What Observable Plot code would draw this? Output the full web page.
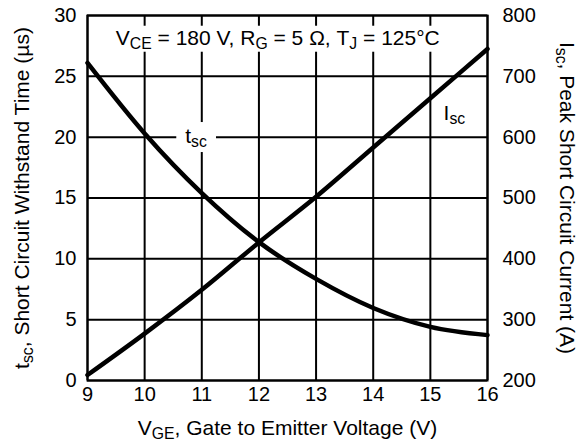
<!DOCTYPE html>
<html>
<head>
<meta charset="utf-8">
<script src="https://cdn.jsdelivr.net/npm/d3@7"></script>
<script src="https://cdn.jsdelivr.net/npm/@observablehq/plot@0.6"></script>
<style>
  html, body { margin: 0; padding: 0; background: white; }
</style>
</head>
<body>
<script>
// ---- data ----
const vge = [9, 10, 11, 12, 13, 14, 15, 16];               // V_GE (V)
const tscValues = [26.1, 20.3, 15.4, 11.37, 8.35, 5.96, 4.41, 3.73]; // t_sc (µs)
const iscValues = [209, 277, 349, 427, 502, 583, 664, 745];          // I_sc (A)

const xTicks = [9, 10, 11, 12, 13, 14, 15, 16];
const tscTicks = [0, 5, 10, 15, 20, 25, 30];
const iscTicks = [200, 300, 400, 500, 600, 700, 800];
const tscDomain = [0, 30];
const iscDomain = [200, 800];

const xTitle = "V_{GE}, Gate to Emitter Voltage (V)";
const leftTitle = "t_{sc}, Short Circuit Withstand Time (µs)";
const rightTitle = "I_{sc}, Peak Short Circuit Current (A)";
const conditionText = "V_{CE} = 180 V, R_{G} = 5 Ω, T_{J} = 125°C";
const tscLabel = "t_{sc}";
const iscLabel = "I_{sc}";

// label anchor positions (data units)
const conditionPos = {x: 12.33, tsc: 28.15};
const tscLabelPos = {x: 10.9, tsc: 20.07};
const iscLabelPos = {x: 15.42, isc: 639};

// map the right-axis quantity onto the left-axis scale
const iscToY = a => (a - iscDomain[0]) / (iscDomain[1] - iscDomain[0]) * (tscDomain[1] - tscDomain[0]) + tscDomain[0];
const yToIsc = y => (y - tscDomain[0]) / (tscDomain[1] - tscDomain[0]) * (iscDomain[1] - iscDomain[0]) + iscDomain[0];

const rows = vge.map((v, i) => ({v, tsc: tscValues[i], isc: iscValues[i]}));

const FONT = "'Liberation Sans', Arial, Helvetica, sans-serif";

const chart = Plot.plot({
  width: 582,
  height: 446,
  marginLeft: 87,
  marginRight: 95,
  marginTop: 15,
  marginBottom: 66,
  x: {domain: [9, 16]},
  y: {domain: tscDomain},
  style: {fontFamily: FONT, fontSize: "20px", color: "black", background: "white"},
  marks: [
    Plot.gridX(xTicks, {stroke: "black", strokeOpacity: 1, strokeWidth: 2}),
    Plot.gridY(tscTicks, {stroke: "black", strokeOpacity: 1, strokeWidth: 2}),
    Plot.frame({stroke: "black", strokeWidth: 2}),
    Plot.axisX(xTicks, {tickSize: 0, tickPadding: 6, label: null, fontSize: 20}),
    Plot.axisY(tscTicks, {anchor: "left", tickSize: 0, tickPadding: 11, label: null, fontSize: 20}),
    Plot.axisY(iscTicks.map(iscToY), {anchor: "right", tickSize: 0, tickPadding: 15, label: null, fontSize: 20,
      tickFormat: d => String(Math.round(yToIsc(d)))}),
    Plot.line(rows, {x: "v", y: "tsc", stroke: "black", strokeWidth: 4.5, curve: "monotone-x"}),
    Plot.line(rows, {x: "v", y: d => iscToY(d.isc), stroke: "black", strokeWidth: 4.5, curve: "monotone-x"}),
    Plot.text([leftTitle], {frameAnchor: "left", text: d => d, rotate: -90, dx: -65, textAnchor: "middle", lineAnchor: "middle", fontSize: 21}),
    Plot.text([rightTitle], {frameAnchor: "right", text: d => d, rotate: 90, dx: 79, textAnchor: "middle", lineAnchor: "middle", fontSize: 21}),
    Plot.text([xTitle], {frameAnchor: "bottom", text: d => d, dy: 48, textAnchor: "middle", lineAnchor: "middle", fontSize: 21}),
    Plot.text([conditionText], {x: () => conditionPos.x, y: () => conditionPos.tsc, text: d => d, textAnchor: "middle", lineAnchor: "middle", fontSize: 21}),
    Plot.text([tscLabel], {x: () => tscLabelPos.x, y: () => tscLabelPos.tsc, text: d => d, textAnchor: "middle", lineAnchor: "middle", fontSize: 21}),
    Plot.text([iscLabel], {x: () => iscLabelPos.x, y: () => iscToY(iscLabelPos.isc), text: d => d, textAnchor: "middle", lineAnchor: "middle", fontSize: 21})
  ]
});

document.body.append(chart);

// ---- post-process: subscripts and white label boxes ----
const svgNS = "http://www.w3.org/2000/svg";
const SUB_SHIFT = 4;
function applySubs(el) {
  const s = el.textContent;
  if (!s.includes("_{")) return;
  const re = /_\{([^}]*)\}/g;
  const parts = [];
  let last = 0, m;
  while ((m = re.exec(s))) {
    parts.push([s.slice(last, m.index), false]);
    parts.push([m[1], true]);
    last = re.lastIndex;
  }
  parts.push([s.slice(last), false]);
  el.textContent = "";
  let cur = 0;
  for (const [t, sub] of parts) {
    if (!t) continue;
    const ts = document.createElementNS(svgNS, "tspan");
    const target = sub ? SUB_SHIFT : 0;
    if (target !== cur) ts.setAttribute("dy", String(target - cur));
    cur = target;
    if (sub) ts.setAttribute("font-size", "0.75em");
    ts.textContent = t;
    el.appendChild(ts);
  }
}
const boxPad = new Map([[conditionText, [4, 0]], [tscLabel, [9, 2]]]);
chart.querySelectorAll("text").forEach(el => {
  const raw = el.textContent;
  applySubs(el);
  if (boxPad.has(raw)) {
    const [px, py] = boxPad.get(raw);
    const bb = el.getBBox();
    const r = document.createElementNS(svgNS, "rect");
    r.setAttribute("x", bb.x - px);
    r.setAttribute("y", bb.y - py);
    r.setAttribute("width", bb.width + 2 * px);
    r.setAttribute("height", bb.height + 2 * py);
    r.setAttribute("fill", "white");
    r.setAttribute("stroke", "none");
    const tr = el.getAttribute("transform");
    if (tr) r.setAttribute("transform", tr);
    el.parentNode.insertBefore(r, el);
  }
});
</script>
</body>
</html>
